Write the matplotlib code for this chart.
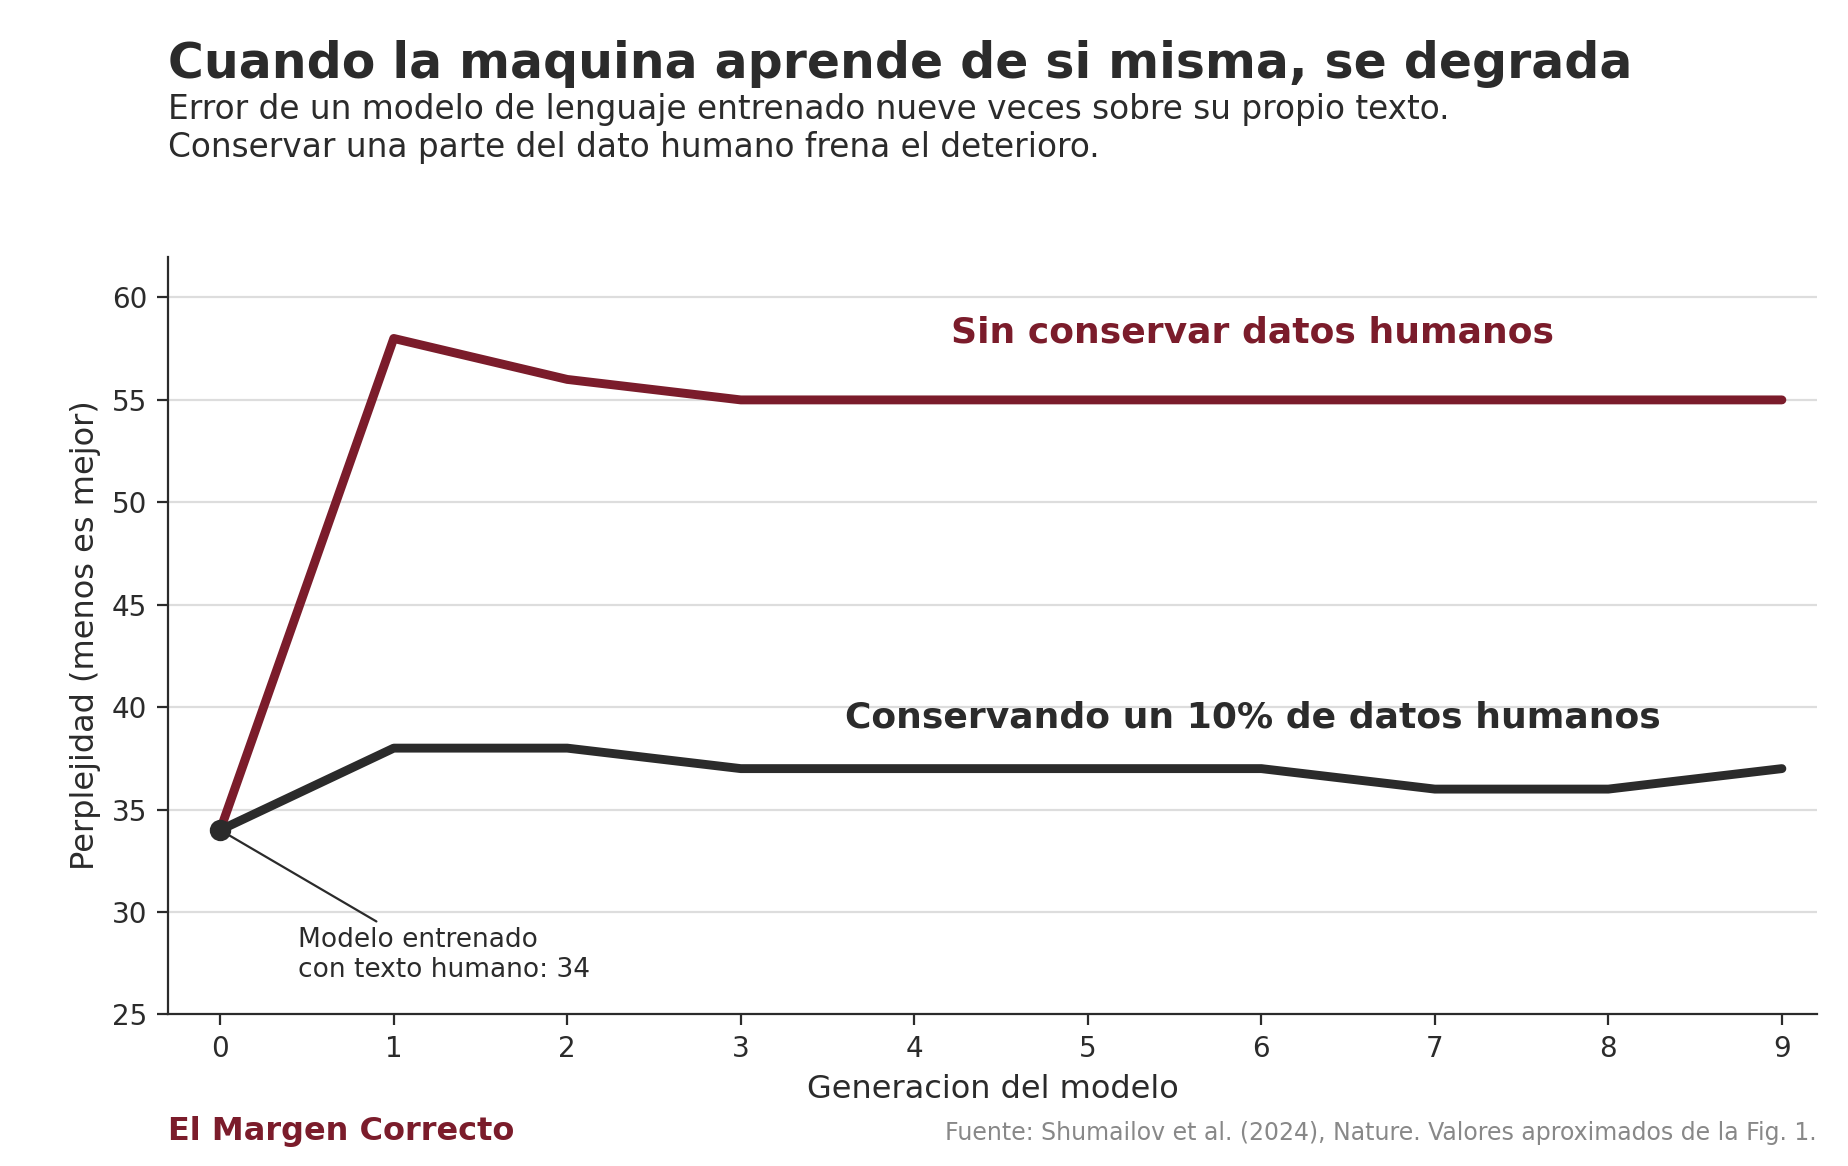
import matplotlib
matplotlib.use("Agg")
import matplotlib.pyplot as plt

generations = [0, 1, 2, 3, 4, 5, 6, 7, 8, 9]
sin_conservar = [34, 58, 56, 55, 55, 55, 55, 55, 55, 55]
conservando = [34, 38, 38, 37, 37, 37, 37, 36, 36, 37]
yticks = [25, 30, 35, 40, 45, 50, 55, 60]

RED = "#7b1c2b"
DARK = "#2b2b2b"

fig = plt.figure(figsize=(9.24, 5.83), dpi=200)
ax = fig.add_axes([0.091, 0.13, 0.892, 0.65])

for y in yticks[1:]:
    ax.axhline(y, color="#dddddd", lw=0.8, zorder=0)
ax.plot(generations, sin_conservar, color=RED, lw=3.2, solid_capstyle="round", zorder=3)
ax.plot(generations, conservando, color=DARK, lw=3.2, solid_capstyle="round", zorder=3)
ax.scatter([0], [34], s=45, color=DARK, zorder=4)

ax.set_xlim(-0.3, 9.2)
ax.set_ylim(25, 62)
ax.set_xticks(generations)
ax.set_yticks(yticks)
ax.tick_params(labelsize=10, colors=DARK, length=4)
for s in ["top", "right"]:
    ax.spines[s].set_visible(False)
for s in ["left", "bottom"]:
    ax.spines[s].set_color(DARK)
ax.set_xlabel("Generacion del modelo", fontsize=11.5, color=DARK)
ax.set_ylabel("Perplejidad (menos es mejor)", fontsize=11.5, color=DARK)

ax.text(5.95, 58.3, "Sin conservar datos humanos", color=RED, fontsize=13,
        fontweight="bold", ha="center", va="center")
ax.text(5.95, 39.5, "Conservando un 10% de datos humanos", color=DARK, fontsize=13,
        fontweight="bold", ha="center", va="center")
ax.annotate("Modelo entrenado\ncon texto humano: 34", xy=(0, 34), xytext=(0.45, 27.9),
            fontsize=9.5, color=DARK, va="center",
            arrowprops=dict(arrowstyle="-", color=DARK, lw=0.8, shrinkA=0, shrinkB=0,
                            relpos=(0.3, 1.0)))

fig.text(0.091, 0.945, "Cuando la maquina aprende de si misma, se degrada",
         fontsize=17.6, fontweight="bold", color=DARK, va="center")
fig.text(0.091, 0.89, "Error de un modelo de lenguaje entrenado nueve veces sobre su propio texto.\nConservar una parte del dato humano frena el deterioro.",
         fontsize=11.8, color=DARK, va="center", linespacing=1.2)
fig.text(0.091, 0.03, "El Margen Correcto", fontsize=11.5, fontweight="bold", color=RED, va="center")
fig.text(0.983, 0.028, "Fuente: Shumailov et al. (2024), Nature. Valores aproximados de la Fig. 1.",
         fontsize=8.5, color="#888888", ha="right", va="center")

fig.savefig("out.png", dpi=200)
